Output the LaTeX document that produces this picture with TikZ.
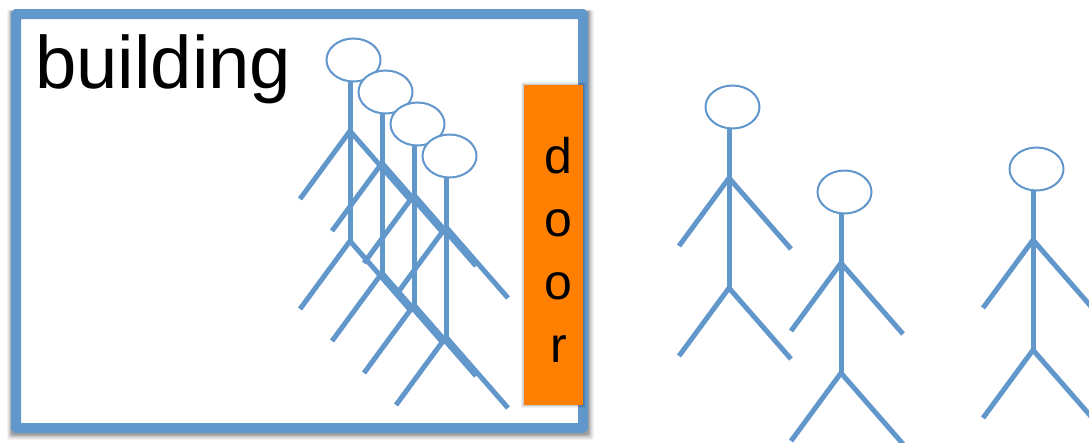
\documentclass[tikz,border=0pt]{standalone}
\usepackage{fontspec}
\setmainfont{Liberation Sans}
\usetikzlibrary{shapes.geometric}
\definecolor{lb}{RGB}{98,151,204}
\definecolor{doorfill}{RGB}{255,127,0}
\tikzset{x=1pt,y=-1pt,
 limb/.style={draw=lb,line width=5pt},
 headn/.style={ellipse,draw=lb,line width=2pt,fill=white,minimum width=54pt,minimum height=43pt,inner sep=0pt},
 person/.pic={
  \coordinate (-hip) at (0,181);
  \coordinate (-sh) at (0,71);
  \coordinate (-la) at (-50,139);
  \coordinate (-ra) at (62,142);
  \coordinate (-ll) at (-50,249);
  \coordinate (-rl) at (62,252);
  \node[headn] (-head) at (3.5,0) {};
  \draw[limb] (0,21) -- (-hip);
  \draw[limb] (-la) -- (-sh) -- (-ra);
  \draw[limb] (-ll) -- (-hip) -- (-rl);
 }}
\begin{document}
\begin{tikzpicture}
\useasboundingbox (0,0) rectangle (1089,442);
% soft shadow of the frame
\foreach \d/\o in {5/.04,4/.05,3/.06,2/.08,1/.10,0/.12}{
  \fill[black,opacity=\o,rounded corners=2pt] (11-\d*.8,11-\d*.3) rectangle (589+\d,435+\d);
}
\node[draw=lb,line width=10pt,fill=white,rounded corners=1pt,minimum width=567pt,minimum height=414pt,inner sep=0pt,anchor=north west,outer sep=0pt] (bldg) at (16,14) {};
\node[font=\fontsize{74.3pt}{74pt}\selectfont,anchor=base west,inner sep=0pt] (blab) at (35,88) {building};
\pic (p1) at (350,60) {person};
\pic (p2) at (382,92) {person};
\pic (p3) at (414,124) {person};
\pic (p4) at (446,156) {person};
\foreach \d/\o in {3/.05,2/.07,1/.09}{
  \fill[black,opacity=\o] (524-\d,85-\d) rectangle (583+\d,405+\d);
}
\node[fill=doorfill,minimum width=59pt,minimum height=320pt,inner sep=0pt,outer sep=0pt,anchor=north west] (door) at (524,85) {};
\foreach \t/\yy in {d/173,o/236,o/299,r/362}{
  \node[font=\fontsize{50pt}{50pt}\selectfont,anchor=base,inner sep=0pt] at (558.5,\yy) {\t};
}
\pic (p5) at (729,107) {person};
\pic (p6) at (841,192) {person};
\pic (p7) at (1033,169) {person};
\end{tikzpicture}
\end{document}
